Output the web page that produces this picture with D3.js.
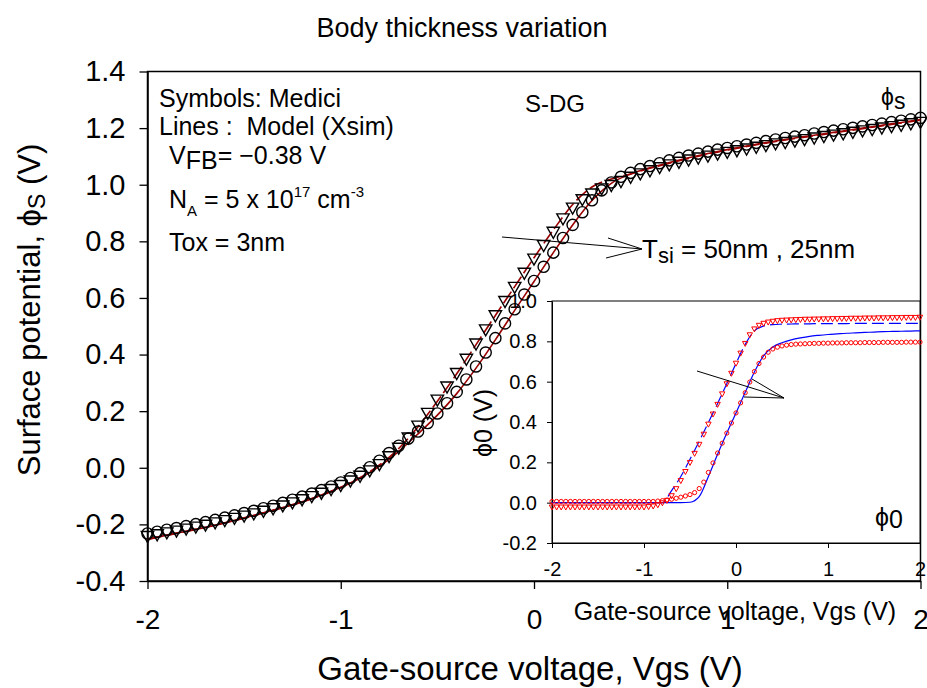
<!DOCTYPE html>
<html>
<head>
<meta charset="utf-8">
<script src="https://cdn.jsdelivr.net/npm/d3@7"></script>
<style>
  body { margin: 0; background: #fff; }
  svg { font-family: "Liberation Sans", Arial, sans-serif; }
</style>
</head>
<body>
<svg id="chart" width="927" height="688"></svg>
<script>
// gate voltage grid of the Medici points (0.05 V) and of the model lines (0.1 V)
const vgsPts = d3.range(-40, 41).map(i => i / 20);
const vgsModel = d3.range(-20, 21).map(i => i / 10);

// main plot: surface potential, Medici symbols
const phiS25 = [ // circles
  -0.232, -0.226, -0.219, -0.213, -0.206, -0.199, -0.192, -0.184, -0.176, -0.168,
  -0.160, -0.152, -0.143, -0.134, -0.124, -0.113, -0.102, -0.091, -0.079, -0.066,
  -0.052, -0.036, -0.019, 0.002, 0.025, 0.052, 0.078, 0.103, 0.128, 0.158,
  0.192, 0.228, 0.268, 0.312, 0.358, 0.407, 0.458, 0.510, 0.560, 0.612,
  0.660, 0.710, 0.760, 0.812, 0.858, 0.903, 0.945, 0.980, 1.008, 1.028,
  1.042, 1.055, 1.066, 1.076, 1.086, 1.095, 1.103, 1.110, 1.117, 1.124,
  1.130, 1.136, 1.142, 1.148, 1.154, 1.160, 1.165, 1.170, 1.175, 1.181,
  1.186, 1.191, 1.196, 1.201, 1.206, 1.211, 1.216, 1.221, 1.226, 1.231, 1.236
];
const phiS50 = [ // triangles
  -0.240, -0.234, -0.227, -0.221, -0.214, -0.207, -0.200, -0.192, -0.184, -0.176,
  -0.168, -0.160, -0.151, -0.142, -0.132, -0.121, -0.110, -0.099, -0.087, -0.074,
  -0.060, -0.044, -0.027, -0.008, 0.014, 0.042, 0.072, 0.108, 0.150, 0.195,
  0.242, 0.288, 0.336, 0.386, 0.440, 0.490, 0.540, 0.590, 0.640, 0.690,
  0.740, 0.788, 0.835, 0.882, 0.920, 0.950, 0.970, 0.988, 1.000, 1.014,
  1.029, 1.041, 1.052, 1.063, 1.073, 1.082, 1.090, 1.097, 1.104, 1.111,
  1.117, 1.123, 1.129, 1.135, 1.141, 1.147, 1.152, 1.157, 1.162, 1.168,
  1.173, 1.178, 1.183, 1.188, 1.193, 1.198, 1.203, 1.208, 1.213, 1.218, 1.223
];
// main plot: model (Xsim) lines
const modelS25 = [
  -0.252, -0.238, -0.224, -0.210, -0.194, -0.177, -0.159, -0.140, -0.120, -0.096,
  -0.069, -0.036, 0.005, 0.058, 0.120, 0.186, 0.262, 0.352, 0.452, 0.556,
  0.658, 0.760, 0.858, 0.944, 1.005, 1.038, 1.060, 1.078, 1.095, 1.110,
  1.124, 1.137, 1.149, 1.160, 1.170, 1.180, 1.190, 1.200, 1.210, 1.220, 1.230
];
const modelS50 = [
  -0.253, -0.239, -0.225, -0.211, -0.195, -0.178, -0.160, -0.141, -0.121, -0.097,
  -0.070, -0.035, 0.010, 0.068, 0.145, 0.235, 0.332, 0.435, 0.538, 0.640,
  0.742, 0.840, 0.930, 0.992, 1.020, 1.038, 1.058, 1.076, 1.093, 1.108,
  1.122, 1.135, 1.147, 1.158, 1.168, 1.178, 1.188, 1.198, 1.208, 1.218, 1.228
];

// inset: centre potential phi0
const phi0_50 = [ // triangles
  -0.021, -0.021, -0.021, -0.021, -0.021, -0.021, -0.021, -0.021, -0.021, -0.021,
  -0.021, -0.021, -0.021, -0.021, -0.021, -0.021, -0.021, -0.021, -0.021, -0.021,
  -0.021, -0.019, -0.016, -0.010, 0.000, 0.012, 0.035, 0.070, 0.110, 0.155,
  0.200, 0.245, 0.290, 0.340, 0.390, 0.440, 0.488, 0.540, 0.590, 0.642,
  0.692, 0.742, 0.790, 0.833, 0.862, 0.880, 0.890, 0.896, 0.900, 0.903,
  0.905, 0.906, 0.907, 0.908, 0.909, 0.910, 0.910, 0.911, 0.911, 0.912,
  0.912, 0.913, 0.913, 0.914, 0.914, 0.915, 0.915, 0.915, 0.916, 0.916,
  0.916, 0.917, 0.917, 0.917, 0.918, 0.918, 0.918, 0.919, 0.919, 0.919, 0.920
];
const phi0_25 = [ // circles
  0.006, 0.006, 0.006, 0.006, 0.006, 0.006, 0.006, 0.006, 0.006, 0.006,
  0.006, 0.006, 0.006, 0.006, 0.006, 0.006, 0.006, 0.006, 0.006, 0.006,
  0.006, 0.006, 0.006, 0.008, 0.010, 0.013, 0.017, 0.022, 0.027, 0.033,
  0.040, 0.050, 0.070, 0.102, 0.150, 0.197, 0.246, 0.295, 0.345, 0.395,
  0.445, 0.495, 0.545, 0.598, 0.650, 0.690, 0.722, 0.746, 0.762, 0.771,
  0.777, 0.781, 0.784, 0.786, 0.787, 0.788, 0.789, 0.790, 0.790, 0.791,
  0.791, 0.792, 0.792, 0.792, 0.793, 0.793, 0.793, 0.793, 0.794, 0.794,
  0.794, 0.794, 0.795, 0.795, 0.795, 0.795, 0.795, 0.796, 0.796, 0.796, 0.796
];
const model0_50 = [
  0.000, 0.000, 0.000, 0.000, 0.000, 0.000, 0.000, 0.000, 0.000, 0.000,
  0.000, 0.000, 0.000, 0.060, 0.130, 0.215, 0.305, 0.398, 0.492, 0.590,
  0.690, 0.785, 0.852, 0.876, 0.883, 0.885, 0.886, 0.887, 0.887, 0.888,
  0.888, 0.888, 0.888, 0.889, 0.889, 0.889, 0.889, 0.889, 0.889, 0.889, 0.889
];
const model0_25 = [
  0.000, 0.000, 0.000, 0.000, 0.000, 0.000, 0.000, 0.000, 0.000, 0.000,
  0.000, 0.000, 0.000, 0.000, 0.000, 0.002, 0.030, 0.130, 0.240, 0.345,
  0.445, 0.547, 0.648, 0.728, 0.772, 0.793, 0.807, 0.817, 0.825, 0.830,
  0.834, 0.837, 0.840, 0.842, 0.844, 0.846, 0.848, 0.849, 0.850, 0.851, 0.852
];

const xTicks = [-2, -1, 0, 1, 2];
const xTickLabels = ["-2", "-1", "0", "1", "2"];
const yTicks = [-0.4, -0.2, 0, 0.2, 0.4, 0.6, 0.8, 1.0, 1.2, 1.4];
const yTickLabels = ["-0.4", "-0.2", "0.0", "0.2", "0.4", "0.6", "0.8", "1.0", "1.2", "1.4"];
const yiTicks = [-0.2, 0, 0.2, 0.4, 0.6, 0.8, 1.0];
const yiTickLabels = ["-0.2", "0.0", "0.2", "0.4", "0.6", "0.8", "1.0"];

const svg = d3.select("#chart");
svg.append("rect").attr("width", 927).attr("height", 688).attr("fill", "#fff");

// ---------- main plot ----------
const x = d3.scaleLinear().domain([-2, 2]).range([147.5, 920.5]);
const y = d3.scaleLinear().domain([-0.4, 1.4]).range([581, 71.5]);

const main = svg.append("g");

main.append("rect")
  .attr("x", x(-2)).attr("y", y(1.4))
  .attr("width", x(2) - x(-2)).attr("height", y(-0.4) - y(1.4))
  .attr("fill", "none").attr("stroke", "#000").attr("stroke-width", 1.5);

const yAxis = main.append("g")
  .attr("transform", `translate(${x(-2)},0)`)
  .call(d3.axisLeft(y).tickValues(yTicks).tickSize(8).tickSizeOuter(0)
    .tickFormat((d, i) => yTickLabels[i]));
const xAxis = main.append("g")
  .attr("transform", `translate(0,${y(-0.4)})`)
  .call(d3.axisBottom(x).tickValues(xTicks).tickSize(8).tickSizeOuter(0)
    .tickFormat((d, i) => xTickLabels[i]));

[yAxis, xAxis].forEach(a => {
  a.select(".domain").attr("stroke-width", 1.5);
  a.selectAll(".tick line").attr("stroke-width", 1.3);
  a.selectAll("text").attr("fill", "#000")
    .attr("font-family", "Liberation Sans, Arial, sans-serif");
});
yAxis.selectAll("text").attr("font-size", 29).attr("x", -22);
xAxis.selectAll("text").attr("font-size", 28).attr("y", 28);

const lineMain = d3.line().x(d => x(d[0])).y(d => y(d[1])).curve(d3.curveMonotoneX);
main.append("path")
  .attr("d", lineMain(vgsModel.map((v, i) => [v, modelS25[i]])))
  .attr("fill", "none").attr("stroke", "#990000").attr("stroke-width", 1.6);
main.append("path")
  .attr("d", lineMain(vgsModel.map((v, i) => [v, modelS50[i]])))
  .attr("fill", "none").attr("stroke", "#990000").attr("stroke-width", 1.6)
  .attr("stroke-dasharray", "14,4");

main.selectAll(".tri")
  .data(vgsPts.map((v, i) => [v, phiS50[i]]))
  .join("path")
  .attr("class", "tri")
  .attr("d", "M-6.2,-4.2L6.2,-4.2L0,6.8Z")
  .attr("transform", d => `translate(${x(d[0])},${y(d[1])})`)
  .attr("fill", "none").attr("stroke", "#000").attr("stroke-width", 1.4);
main.selectAll(".circ")
  .data(vgsPts.map((v, i) => [v, phiS25[i]]))
  .join("circle")
  .attr("class", "circ")
  .attr("cx", d => x(d[0])).attr("cy", d => y(d[1])).attr("r", 5.6)
  .attr("fill", "none").attr("stroke", "#000").attr("stroke-width", 1.4);

// annotations
const ann = main.append("g").attr("font-size", 25).attr("fill", "#000");
ann.append("text").attr("x", 159).attr("y", 107).text("Symbols: Medici");
ann.append("text").attr("x", 159).attr("y", 135).attr("xml:space", "preserve").text("Lines :  Model (Xsim)");
const vfb = ann.append("text").attr("x", 169).attr("y", 164);
vfb.append("tspan").text("V");
vfb.append("tspan").attr("dy", 5).text("FB");
vfb.append("tspan").attr("dy", -5).text("= \u22120.38 V");
const na = ann.append("text").attr("x", 169).attr("y", 208);
na.append("tspan").text("N");
na.append("tspan").attr("font-size", 15).attr("dy", 8).text("A");
na.append("tspan").attr("dy", -8).text(" = 5 x 10");
na.append("tspan").attr("font-size", 15).attr("dy", -11).text("17");
na.append("tspan").attr("dy", 11).text(" cm");
na.append("tspan").attr("font-size", 15).attr("dy", -11).text("-3");
ann.append("text").attr("x", 169).attr("y", 251).text("Tox = 3nm");
ann.append("text").attr("x", 525).attr("y", 112).attr("font-size", 24).text("S-DG");
const phs = ann.append("text").attr("x", 881).attr("y", 105).attr("font-size", 23);
phs.append("tspan").text("\u03d5");
phs.append("tspan").attr("dy", 4).text("s");
const tsi = ann.append("text").attr("x", 642).attr("y", 258).attr("font-size", 26);
tsi.append("tspan").text("T");
tsi.append("tspan").attr("font-size", 22).attr("dy", 5).text("si");
tsi.append("tspan").attr("dy", -5).text(" = 50nm , 25nm");

const arrowMain = [[502, 237], [608, 238], [606, 258]];
main.selectAll(".arr")
  .data(arrowMain).join("line")
  .attr("x1", d => d[0]).attr("y1", d => d[1]).attr("x2", 642).attr("y2", 249)
  .attr("stroke", "#000").attr("stroke-width", 1);

// ---------- inset ----------
const xi = d3.scaleLinear().domain([-2, 2]).range([552, 920]);
const yi = d3.scaleLinear().domain([-0.2, 1.0]).range([543, 301]);
const inset = svg.append("g");

inset.append("rect")
  .attr("x", xi(-2)).attr("y", yi(1.0))
  .attr("width", xi(2) - xi(-2)).attr("height", yi(-0.2) - yi(1.0))
  .attr("fill", "#fff").attr("stroke", "#000").attr("stroke-width", 1);

const yiAxis = inset.append("g")
  .attr("transform", `translate(${xi(-2)},0)`)
  .call(d3.axisLeft(yi).tickValues(yiTicks).tickSize(5).tickSizeOuter(0)
    .tickFormat((d, i) => yiTickLabels[i]));
const xiAxis = inset.append("g")
  .attr("transform", `translate(0,${yi(-0.2)})`)
  .call(d3.axisBottom(xi).tickValues(xTicks).tickSize(5).tickSizeOuter(0)
    .tickFormat((d, i) => xTickLabels[i]));
[yiAxis, xiAxis].forEach(a => {
  a.selectAll("text").attr("font-size", 20).attr("fill", "#000")
    .attr("font-family", "Liberation Sans, Arial, sans-serif");
});
yiAxis.selectAll("text").attr("x", -15);
xiAxis.selectAll("text").attr("y", 19);

const lineInset = d3.line().x(d => xi(d[0])).y(d => yi(d[1])).curve(d3.curveMonotoneX);
inset.append("path")
  .attr("d", lineInset(vgsModel.map((v, i) => [v, model0_25[i]])))
  .attr("fill", "none").attr("stroke", "#0000ff").attr("stroke-width", 1.2);
inset.append("path")
  .attr("d", lineInset(vgsModel.map((v, i) => [v, model0_50[i]])))
  .attr("fill", "none").attr("stroke", "#0000ff").attr("stroke-width", 1.2)
  .attr("stroke-dasharray", "12,5");

inset.selectAll(".itri")
  .data(vgsPts.map((v, i) => [v, phi0_50[i]]))
  .join("path")
  .attr("class", "itri")
  .attr("d", "M-2.7,-1.9L2.7,-1.9L0,3.1Z")
  .attr("transform", d => `translate(${xi(d[0])},${yi(d[1])})`)
  .attr("fill", "none").attr("stroke", "#ff0000").attr("stroke-width", 1);
inset.selectAll(".icirc")
  .data(vgsPts.map((v, i) => [v, phi0_25[i]]))
  .join("circle")
  .attr("class", "icirc")
  .attr("cx", d => xi(d[0])).attr("cy", d => yi(d[1])).attr("r", 2.1)
  .attr("fill", "none").attr("stroke", "#ff0000").attr("stroke-width", 1);

const arrowInset = [[697, 371], [752, 379], [744, 397]];
inset.selectAll(".iarr")
  .data(arrowInset).join("line")
  .attr("x1", d => d[0]).attr("y1", d => d[1]).attr("x2", 784).attr("y2", 398)
  .attr("stroke", "#000").attr("stroke-width", 1);

const ph0 = inset.append("text").attr("x", 875).attr("y", 526).attr("font-size", 25);
ph0.append("tspan").text("\u03d5");
ph0.append("tspan").attr("dy", 2).text("0");

inset.append("text")
  .attr("x", 735).attr("y", 620).attr("text-anchor", "middle").attr("font-size", 25)
  .text("Gate-source voltage, Vgs (V)");
const yiTitle = inset.append("text")
  .attr("transform", "translate(492,423) rotate(-90)")
  .attr("text-anchor", "middle").attr("font-size", 25);
yiTitle.append("tspan").text("\u03d5");
yiTitle.append("tspan").text("0 (V)");

// main x tick labels above the inset title
xAxis.raise();

// ---------- titles ----------
svg.append("text")
  .attr("x", 462).attr("y", 37).attr("text-anchor", "middle").attr("font-size", 27)
  .text("Body thickness variation");
svg.append("text")
  .attr("x", 530).attr("y", 680).attr("text-anchor", "middle").attr("font-size", 33)
  .text("Gate-source voltage, Vgs (V)");
const yTitle = svg.append("text")
  .attr("transform", "translate(40,310) rotate(-90)")
  .attr("text-anchor", "middle").attr("font-size", 31);
yTitle.append("tspan").text("Surface potential, \u03d5");
yTitle.append("tspan").attr("font-size", 23).attr("dy", 5).text("S");
yTitle.append("tspan").attr("dy", -5).text(" (V)");
</script>
</body>
</html>
